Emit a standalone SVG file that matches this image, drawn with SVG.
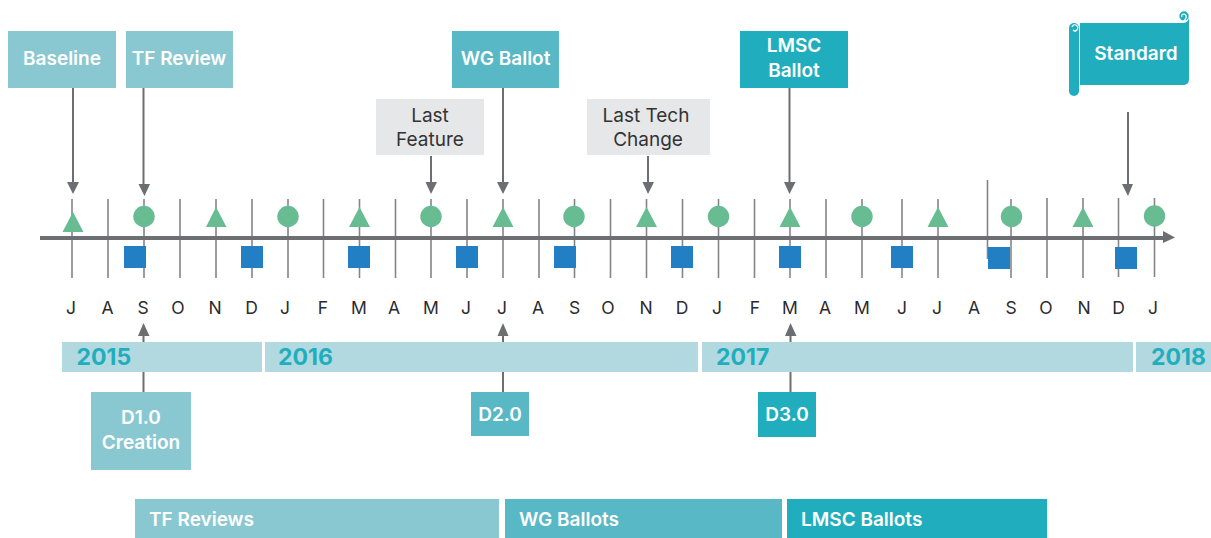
<svg xmlns="http://www.w3.org/2000/svg" width="1211" height="538" viewBox="0 0 1211 538">
<style>
text{font-family:"Inter","Liberation Sans",sans-serif}
.w{fill:#fff;font-size:19px;font-weight:600;text-anchor:middle}
.g{fill:#333;font-size:19px;text-anchor:middle}
.m{fill:#2b2b2e;font-size:17.500px;text-anchor:middle}
.y{fill:#20aebe;font-size:23px;font-weight:700}
.b{fill:#fff;font-size:19px;font-weight:600}
.t{stroke:#848587;stroke-width:1.6;fill:none}
.a{stroke:#6d6e71;stroke-width:2;fill:none}
.h{fill:#6d6e71}
.tri{fill:#68bc92}
.sq{fill:#237fc4}
.yr{fill:#b3d9e0}
.c{fill:none;stroke:#fff;stroke-width:1.200}
</style>
<g id="connectors">
<path class="t" d="M72 199V278M108 199V278M144 199V278M180 199V278M216 199V278M252 199V278M288 199V278M323.500 199V278M359.500 199V278M395.500 199V278M431 199V278M467 199V278M503 199V278M539 199V278M574.500 199V278M610.500 199V278M646.500 199V278M682.500 199V278M718.500 199V278M754.500 199V278M790 199V278M826 199V278M862 199V278M902 199V278M938 199V278M1011 199V278M1047 198V278M1083 198V278M1118.500 198V277M1154.500 198V277M987.500 180V259"/>
<path d="M40 238H1165" stroke="#6d6e71" stroke-width="4" fill="none"/>
<path class="h" d="M1163 231L1175 237.500L1163 243Z"/>
<path class="a" d="M73 88V183M143.500 88V185M431 156V183M503 88V183M648 156V183M789.500 88V183M1128 112V186M143.500 334V392M503 334V392M790.500 334V392"/>
<path class="h" d="M67 182H79L73 194ZM138.500 184H150L144.500 196ZM425.500 182H437L431 194ZM497 182H509L503 194ZM642.500 182H654L648 194ZM784 182H795.500L789.500 194ZM1122 184H1133L1128 196ZM138 336H149.500L143.500 323ZM497.500 336H508.500L503 323ZM785 336H796.500L790.500 323Z"/>
</g>
<g id="markers">
<path class="tri" d="M62.500 232L73 212L83.500 232ZM206 227L216 207L226.500 227ZM349 227L359.500 207L370 227ZM492.500 227L503 207L513.500 227ZM636 227L646.500 207L657 227ZM779.500 227L790 207L800.500 227ZM927.500 227L938 207L948.500 227ZM1072.500 227L1083 207L1093.500 227Z"/>
<g class="tri"><circle cx="144" cy="216.500" r="10.700"/><circle cx="288" cy="216.500" r="10.700"/><circle cx="431" cy="216.500" r="10.700"/><circle cx="574" cy="216.500" r="10.700"/><circle cx="718.500" cy="216.500" r="10.700"/><circle cx="862" cy="216.500" r="10.700"/><circle cx="1011.500" cy="216.500" r="10.700"/><circle cx="1154.500" cy="216" r="10.700"/></g>
<g class="sq"><rect x="124" y="246" width="22" height="22"/><rect x="241" y="246" width="22" height="22"/><rect x="348" y="246" width="22" height="22"/><rect x="456" y="246" width="22" height="22"/><rect x="554" y="246" width="22" height="22"/><rect x="671" y="246" width="22" height="22"/><rect x="779" y="246" width="22" height="22"/><rect x="891" y="246" width="22" height="22"/><rect x="988" y="247" width="22" height="22"/><rect x="1115" y="247" width="22" height="22"/></g>
</g>
<g id="months">
<text class="m" x="71" y="313.500">J</text><text class="m" x="107.500" y="313.500">A</text><text class="m" x="143" y="313.500">S</text><text class="m" x="178" y="313.500">O</text><text class="m" x="215" y="313.500">N</text><text class="m" x="251.500" y="313.500">D</text><text class="m" x="285" y="313.500">J</text><text class="m" x="323" y="313.500">F</text><text class="m" x="359" y="313.500">M</text><text class="m" x="394" y="313.500">A</text><text class="m" x="431" y="313.500">M</text><text class="m" x="466" y="313.500">J</text><text class="m" x="502" y="313.500">J</text><text class="m" x="538" y="313.500">A</text><text class="m" x="574.500" y="313.500">S</text><text class="m" x="608" y="313.500">O</text><text class="m" x="646" y="313.500">N</text><text class="m" x="682" y="313.500">D</text><text class="m" x="717" y="313.500">J</text><text class="m" x="755" y="313.500">F</text><text class="m" x="790" y="313.500">M</text><text class="m" x="825" y="313.500">A</text><text class="m" x="862" y="313.500">M</text><text class="m" x="902" y="313.500">J</text><text class="m" x="937" y="313.500">J</text><text class="m" x="974" y="313.500">A</text><text class="m" x="1011" y="313.500">S</text><text class="m" x="1046" y="313.500">O</text><text class="m" x="1084" y="313.500">N</text><text class="m" x="1118.500" y="313.500">D</text><text class="m" x="1153" y="313.500">J</text>
</g>
<g id="y2015"><rect class="yr" x="62" y="342" width="200" height="30"/><text class="y" x="76.500" y="365">2015</text></g>
<g id="y2016"><rect class="yr" x="265" y="342" width="433" height="30"/><text class="y" x="278" y="365">2016</text></g>
<g id="y2017"><rect class="yr" x="702" y="342" width="431" height="30"/><text class="y" x="716" y="365">2017</text></g>
<g id="y2018"><rect class="yr" x="1136" y="342" width="75" height="30"/><text class="y" x="1151" y="365">2018</text></g>
<g id="baseline"><rect x="8" y="31" width="108" height="57" fill="#8ac8d1"/><text class="w" x="62" y="65">Baseline</text></g>
<g id="tf-review"><rect x="126" y="31" width="107" height="57" fill="#8ac8d1"/><text class="w" x="179" y="65">TF Review</text></g>
<g id="wg-ballot"><rect x="452" y="31" width="107" height="57" fill="#59b8c5"/><text class="w" x="505.500" y="65">WG Ballot</text></g>
<g id="lmsc-ballot"><rect x="740" y="31" width="108" height="57" fill="#20aebe"/><text class="w" x="794" y="52">LMSC</text><text class="w" x="794" y="77">Ballot</text></g>
<g id="last-feature"><rect x="376" y="99" width="108" height="56" fill="#e6e7e8"/><text class="g" x="430" y="122">Last</text><text class="g" x="430" y="146">Feature</text></g>
<g id="last-tech"><rect x="587" y="99" width="123" height="56" fill="#e6e7e8"/><text class="g" x="646" y="122">Last Tech</text><text class="g" x="648" y="146">Change</text></g>
<g id="standard">
<path d="M1080 23H1183Q1189 23 1189 16V79Q1189 85 1183 85H1080Z" fill="#20aebe"/>
<rect x="1069" y="23" width="10" height="73" rx="5" fill="#20aebe"/>
<circle cx="1184" cy="16" r="4.700" fill="#20aebe"/>
<path class="c" d="M1182 17Q1181 14 1184 14Q1187 15 1186 18Q1185 21 1182 22"/>
<path class="c" d="M1072 27Q1073 24 1076 25Q1079 27 1077 30Q1075 32 1073 30"/>
<text class="w" x="1136" y="60">Standard</text>
</g>
<g id="d1"><rect x="91" y="392" width="100" height="78" fill="#8ac8d1"/><text class="w" x="141" y="424">D1.0</text><text class="w" x="141" y="449">Creation</text></g>
<g id="d2"><rect x="471" y="392" width="58" height="44" fill="#59b8c5"/><text class="w" x="500" y="421">D2.0</text></g>
<g id="d3"><rect x="758" y="392" width="58" height="45" fill="#20aebe"/><text class="w" x="787" y="421">D3.0</text></g>
<g id="tf-reviews"><rect x="135" y="499" width="364" height="39" fill="#8ac8d1"/><text class="b" x="149" y="526">TF Reviews</text></g>
<g id="wg-ballots"><rect x="505" y="499" width="277" height="39" fill="#59b8c5"/><text class="b" x="519" y="526">WG Ballots</text></g>
<g id="lmsc-ballots"><rect x="787" y="499" width="260" height="39" fill="#20aebe"/><text class="b" x="801" y="526">LMSC Ballots</text></g>
</svg>
